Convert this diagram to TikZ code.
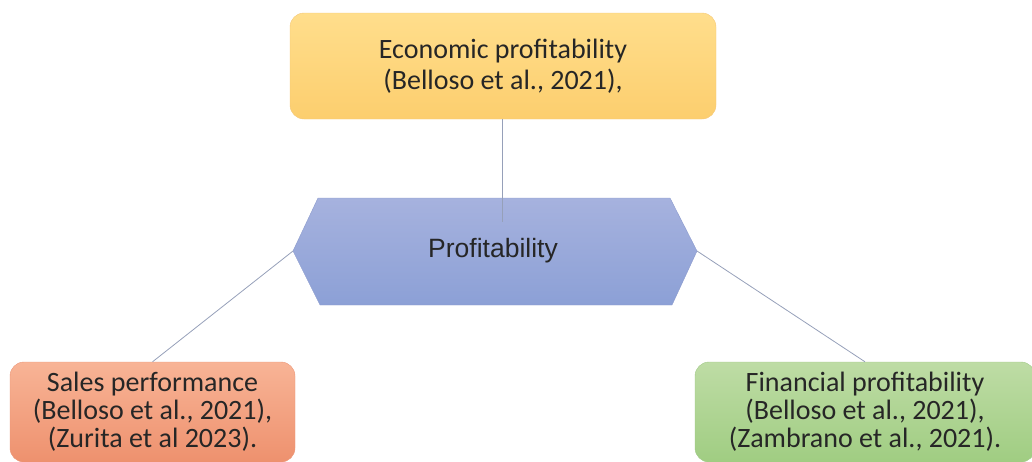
\documentclass[tikz,border=0pt]{standalone}
\usepackage{fontspec}
\setmainfont{Carlito}
\newfontfamily\arialfont{Liberation Sans}
\definecolor{econtop}{RGB}{255,222,140}
\definecolor{econbot}{RGB}{252,206,110}
\definecolor{econline}{RGB}{245,200,120}
\definecolor{hextop}{RGB}{166,178,222}
\definecolor{hexbot}{RGB}{140,160,214}
\definecolor{hexline}{RGB}{140,155,205}
\definecolor{salestop}{RGB}{248,180,150}
\definecolor{salesbot}{RGB}{238,145,110}
\definecolor{salesline}{RGB}{235,150,120}
\definecolor{fintop}{RGB}{190,220,165}
\definecolor{finbot}{RGB}{160,205,130}
\definecolor{finline}{RGB}{160,200,135}
\definecolor{linkcol}{RGB}{150,160,185}
\begin{document}
\begin{tikzpicture}[x=1pt,y=-1pt,
  box/.style={rounded corners=14pt, align=center, text=black!85, font=\fontsize{28}{28}\selectfont, inner sep=0pt},
  link/.style={draw=linkcol, line width=0.8pt}]
\useasboundingbox (0,0) rectangle (1032,461);
% top box
\node[box, top color=econtop, bottom color=econbot, draw=econline,
  minimum width=426pt, minimum height=106pt, font=\fontsize{28}{31}\selectfont] (econ) at (503,66)
  {Economic profitability\\(Belloso et al., 2021),};
% hexagon
\coordinate (hl) at (293,251);
\coordinate (ht1) at (318,198);
\coordinate (ht2) at (670,198);
\coordinate (hr) at (697,251);
\coordinate (hb2) at (672,305);
\coordinate (hb1) at (320,305);
\shade[top color=hextop, bottom color=hexbot]
  (hl) -- (ht1) -- (ht2) -- (hr) -- (hb2) -- (hb1) -- cycle;
\draw[hexline] (hl) -- (ht1) -- (ht2) -- (hr) -- (hb2) -- (hb1) -- cycle;
\node[text=black!85, font=\arialfont\fontsize{26.5}{30}\selectfont] (prof) at (493,251) {Profitability};
\coordinate (mid) at (502,222);
% bottom boxes
\node[box, top color=salestop, bottom color=salesbot, draw=salesline,
  minimum width=285pt, minimum height=100pt] (sales) at (152.5,412)
  {Sales performance\\(Belloso et al., 2021),\\(Zurita et al 2023).};
\node[box, top color=fintop, bottom color=finbot, draw=finline,
  minimum width=340pt, minimum height=100pt] (fin) at (865,412)
  {Financial profitability\\(Belloso et al., 2021),\\(Zambrano et al., 2021).};
% connectors
\draw[link] (econ.south -| mid) -- (mid);
\draw[link] (hl) -- (sales.north);
\draw[link] (hr) -- (fin.north);
\end{tikzpicture}
\end{document}
